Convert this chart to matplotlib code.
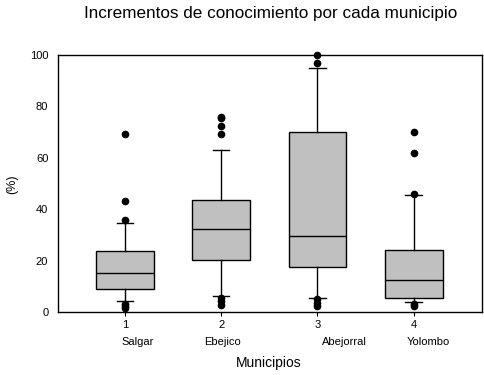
import matplotlib
matplotlib.use("Agg")
import matplotlib.pyplot as plt

plt.rcParams['font.family'] = ['Liberation Sans', 'DejaVu Sans']

positions = [1, 2, 3, 4]
names = ["Salgar", "Ebejico", "Abejorral", "Yolombo"]
q1 = [9.1, 20.2, 17.5, 5.4]
medians = [15.2, 32.3, 29.5, 12.6]
q3 = [23.7, 43.5, 70.0, 24.1]
whislo = [4.3, 6.2, 5.4, 3.9]
whishi = [34.6, 63.1, 94.8, 45.6]
fliers = [
    [69.2, 43.3, 35.9, 3.2, 2.4, 1.6],
    [76.0, 75.3, 72.4, 69.3, 5.4, 4.1, 2.8],
    [100.0, 97.0, 5.0, 3.5, 2.2],
    [70.0, 62.0, 46.1, 3.0, 2.2],
]
name_offsets = [-0.04, -0.18, 0.05, -0.07]

fig = plt.figure(figsize=(4.85, 3.75), dpi=100)
ax = fig.add_axes([0.1196, 0.168, 0.8742, 0.6853])

stats = []
for i in range(4):
    stats.append(dict(med=medians[i], q1=q1[i], q3=q3[i], whislo=whislo[i],
                      whishi=whishi[i], fliers=fliers[i], label=str(positions[i])))

res = ax.bxp(stats, positions=positions, widths=0.6, patch_artist=True,
             showcaps=True,
             boxprops=dict(facecolor='#c0c0c0', edgecolor='black', linewidth=1.0),
             medianprops=dict(color='black', linewidth=1.0),
             whiskerprops=dict(color='black', linewidth=1.0),
             capprops=dict(color='black', linewidth=1.0),
             capwidths=0.17,
             flierprops=dict(marker='o', markerfacecolor='black', markeredgecolor='black',
                             markersize=4.5, linestyle='none'))
for f in res['fliers']:
    f.set_clip_on(False)

ax.set_xlim(0.304, 4.71)
ax.set_ylim(0, 100)
ax.set_yticks([0, 20, 40, 60, 80, 100])
ax.set_xticks(positions)
ax.set_xticklabels([str(p) for p in positions], fontsize=8)
ax.tick_params(axis='y', length=0, pad=7, labelsize=8)
ax.tick_params(axis='x', length=3, direction='out', pad=3)
for s in ax.spines.values():
    s.set_linewidth(1.0)

for i in range(4):
    ax.text(positions[i] + name_offsets[i], -11.5, names[i], fontsize=8,
            ha='left', va='center', transform=ax.transData)

fig.text(0.558, 0.963, "Incrementos de conocimiento por cada municipio",
         ha='center', va='center', fontsize=12.3)
fig.text(0.553, 0.032, "Municipios", ha='center', va='center', fontsize=10)
fig.text(0.025, 0.51, "(%)", ha='center', va='center', fontsize=9, rotation=90)

fig.savefig("out.png", dpi=100)
